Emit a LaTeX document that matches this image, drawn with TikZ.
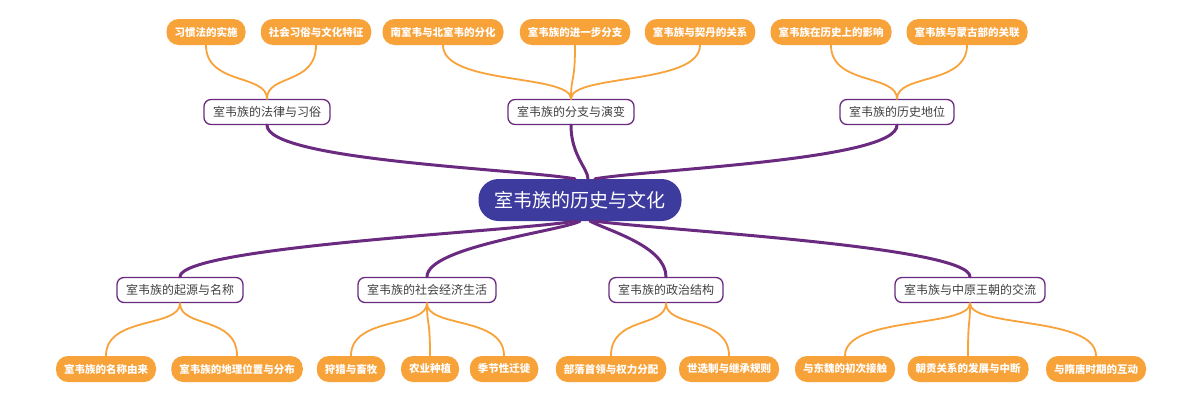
\documentclass[tikz,border=0pt]{standalone}
\usepackage{fontspec}
\setmainfont{Noto Sans CJK SC}
\definecolor{rootc}{HTML}{3D3B9E}
\definecolor{purp}{HTML}{6A2A80}
\definecolor{orng}{HTML}{F8A23A}
\begin{document}
\begin{tikzpicture}[x=1pt,y=-1pt,
  rootbox/.style={fill=rootc,rounded corners=20pt,minimum height=42pt,text=white,font=\fontsize{19}{21}\selectfont,inner xsep=16pt},
  midbox/.style={draw=purp,line width=1.3pt,fill=white,rounded corners=7pt,minimum height=25pt,text=black!75,font=\fontsize{12}{14}\selectfont,inner xsep=9pt},
  leaf/.style={fill=orng,rounded corners=12pt,minimum height=26pt,text=white,font=\fontsize{10.5}{12}\selectfont\bfseries,inner xsep=8pt},
  pl/.style={draw=purp,line width=3pt,line cap=round},
  ol/.style={draw=orng,line width=1.8pt,line cap=round}]
\useasboundingbox (0,0) rectangle (1200,402);
\node[rootbox] (r) at (580,200) {室韦族的历史与文化};
\node[midbox] (a) at (267,112) {室韦族的法律与习俗};
\node[midbox] (b) at (571,112) {室韦族的分支与演变};
\node[midbox] (c) at (897,112) {室韦族的历史地位};
\node[midbox] (d) at (180,290) {室韦族的起源与名称};
\node[midbox] (e) at (427,290) {室韦族的社会经济生活};
\node[midbox] (f) at (666,290) {室韦族的政治结构};
\node[midbox] (g) at (970,290) {室韦族与中原王朝的交流};
\node[leaf] (a1) at (206,32) {习惯法的实施};
\node[leaf] (a2) at (316,32) {社会习俗与文化特征};
\node[leaf] (b1) at (443,32) {南室韦与北室韦的分化};
\node[leaf] (b2) at (575,32) {室韦族的进一步分支};
\node[leaf] (b3) at (700,32) {室韦族与契丹的关系};
\node[leaf] (c1) at (831,32) {室韦族在历史上的影响};
\node[leaf] (c2) at (967,32) {室韦族与蒙古部的关联};
\node[leaf] (d1) at (106,369) {室韦族的名称由来};
\node[leaf] (d2) at (237,369) {室韦族的地理位置与分布};
\node[leaf] (e1) at (351,369) {狩猎与畜牧};
\node[leaf] (e2) at (430,369) {农业种植};
\node[leaf] (e3) at (504,369) {季节性迁徙};
\node[leaf] (f1) at (611,369) {部落首领与权力分配};
\node[leaf] (f2) at (729,369) {世选制与继承规则};
\node[leaf] (g1) at (845,369) {与东魏的初次接触};
\node[leaf] (g2) at (968,369) {朝贡关系的发展与中断};
\node[leaf] (g3) at (1096,369) {与隋唐时期的互动};
% root to mid
\draw[pl] (a.south) .. controls +(0,35) and +(-60,-10) .. ([xshift=-5pt]r.north);
\draw[pl] (b.south) .. controls +(0,30) and +(0,-10) .. ([xshift=8pt]r.north);
\draw[pl] (c.south) .. controls +(0,35) and +(60,-10) .. ([xshift=15pt]r.north);
\draw[pl] (d.north) .. controls +(0,-30) and +(-60,10) .. ([xshift=-5pt]r.south);
\draw[pl] (e.north) .. controls +(0,-30) and +(-20,10) .. ([xshift=0pt]r.south);
\draw[pl] (f.north) .. controls +(0,-30) and +(20,10) .. ([xshift=10pt]r.south);
\draw[pl] (g.north) .. controls +(0,-30) and +(80,10) .. ([xshift=15pt]r.south);
% mid to leaves
\foreach \m/\l in {a/a1,a/a2,b/b1,b/b2,b/b3,c/c1,c/c2}
  \draw[ol] (\l.south) .. controls +(0,40) and +(0,-25) .. (\m.north);
\foreach \m/\l in {d/d1,d/d2,e/e1,e/e2,e/e3,f/f1,f/f2,g/g1,g/g2,g/g3}
  \draw[ol] (\l.north) .. controls +(0,-40) and +(0,25) .. (\m.south);
\end{tikzpicture}
\end{document}
